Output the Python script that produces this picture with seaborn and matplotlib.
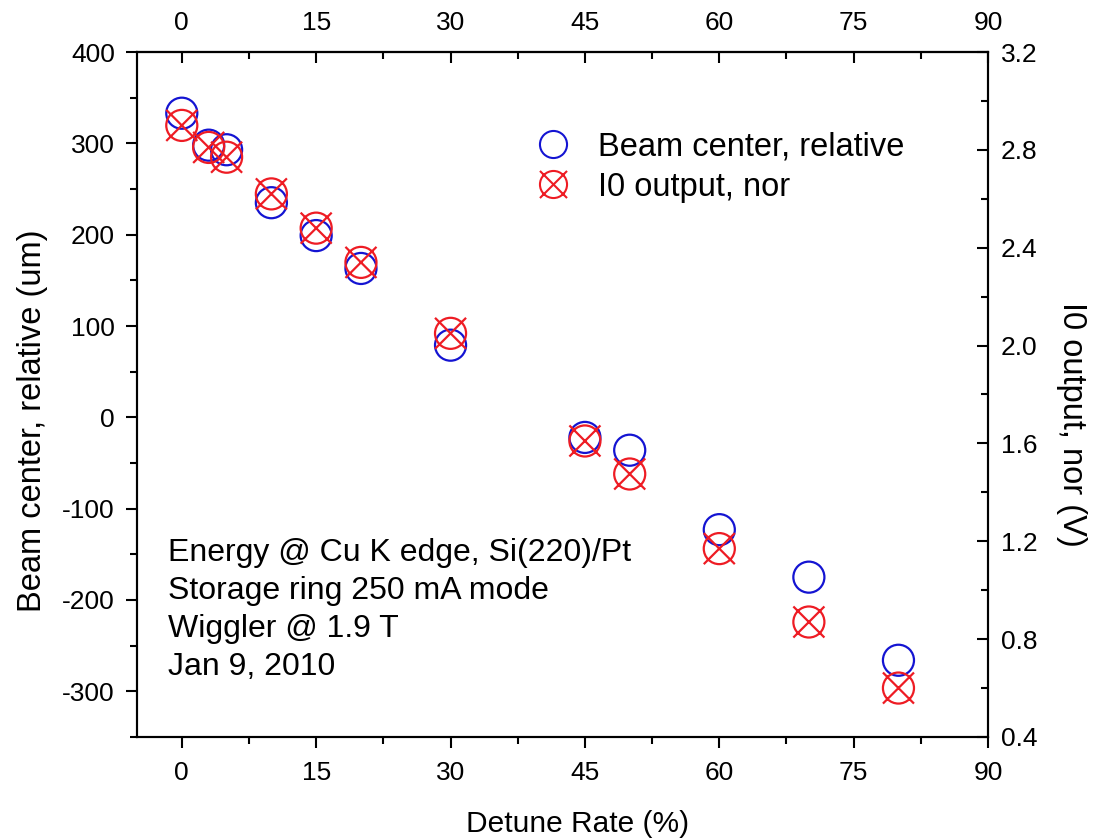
import matplotlib
matplotlib.use("Agg")
import matplotlib.pyplot as plt
from matplotlib.path import Path
from matplotlib.lines import Line2D
from matplotlib.ticker import MultipleLocator, FormatStrFormatter
import numpy as np
import pandas as pd
import seaborn as sns

# data
detune = [0, 3, 5, 10, 15, 20, 30, 45, 50, 60, 70, 80]
beam_center = [333, 298, 293, 235, 199, 163, 79, -22, -36, -123, -175, -266]
i0_output = [2.90, 2.81, 2.77, 2.62, 2.48, 2.34, 2.05, 1.61, 1.475, 1.17, 0.87, 0.60]

annotation = ["Energy @ Cu K edge, Si(220)/Pt",
              "Storage ring 250 mA mode",
              "Wiggler @ 1.9 T",
              "Jan 9, 2010"]

df = pd.DataFrame({"detune": detune, "beam": beam_center, "i0": i0_output})

sns.set_style("ticks")
plt.rcParams["font.family"] = ["Liberation Sans", "DejaVu Sans"]
plt.rcParams["axes.unicode_minus"] = False
for k in ("text.color", "axes.labelcolor", "xtick.color", "ytick.color", "axes.edgecolor"):
    plt.rcParams[k] = "black"

BLUE = "#1414d2"
RED = "#ee1c24"

# circle with an X through it
circ_x = Path.make_compound_path(Path.unit_circle(),
                                 Path([[-1, -1], [1, 1]]),
                                 Path([[-1, 1], [1, -1]]))

fig = plt.figure(figsize=(10.96, 8.39), dpi=100)
ax = fig.add_axes([0.125, 0.1216, 0.7765, 0.8164])
ax2 = ax.twinx()

sns.scatterplot(data=df, x="detune", y="beam", ax=ax, marker="o", s=500,
                color=BLUE, facecolor="none", edgecolor=BLUE, linewidth=1.6,
                legend=False)
sns.scatterplot(data=df, x="detune", y="i0", ax=ax2, marker=circ_x, s=500,
                color=RED, facecolor="none", edgecolor=RED, linewidth=1.6,
                legend=False)

ax.set_xlim(-5, 90)
ax.set_ylim(-350, 400)
ax2.set_ylim(0.4, 3.2)

ax.xaxis.set_major_locator(MultipleLocator(15))
ax.xaxis.set_minor_locator(MultipleLocator(7.5))
ax.yaxis.set_major_locator(MultipleLocator(100))
ax.yaxis.set_minor_locator(MultipleLocator(50))
ax2.yaxis.set_major_locator(MultipleLocator(0.4))
ax2.yaxis.set_minor_locator(MultipleLocator(0.2))
ax2.yaxis.set_major_formatter(FormatStrFormatter("%.1f"))

for a in (ax, ax2):
    for sp in a.spines.values():
        sp.set_linewidth(1.5)
        sp.set_visible(True)

ax.tick_params(axis="x", which="major", direction="out", length=8, width=1.5,
               labelsize=19, pad=9)
ax.tick_params(axis="y", which="major", direction="out", length=8, width=1.5,
               labelsize=19, pad=8)
ax.tick_params(axis="both", which="minor", direction="out", length=5, width=1.5)
ax2.tick_params(axis="y", which="major", direction="in", length=8, width=1.5,
                labelsize=19, pad=9)
ax2.tick_params(axis="y", which="minor", direction="in", length=5, width=1.5)

top = ax.secondary_xaxis("top")
top.xaxis.set_major_locator(MultipleLocator(15))
top.xaxis.set_minor_locator(MultipleLocator(7.5))
top.tick_params(which="major", direction="in", length=8, width=1.5, labelsize=19, pad=12)
top.tick_params(which="minor", direction="in", length=5, width=1.5)
top.spines["top"].set_linewidth(1.5)

ax.set_xlabel("Detune Rate (%)", fontsize=21.5, labelpad=18)
ax.xaxis.label.set_x(0.518)
ax.set_ylabel("Beam center, relative (um)", fontsize=23.5, labelpad=10)
ax.yaxis.label.set_y(0.461)
ax2.set_ylabel("I0 output, nor (V)", fontsize=23.5, rotation=270, labelpad=36)
ax2.yaxis.label.set_y(0.457)

ax.text(0.036, 0.29, "\n".join(annotation), transform=ax.transAxes,
        fontsize=23, va="top", ha="left", linespacing=1.34)

handles = [
    Line2D([], [], ls="none", marker="o", markersize=19.5, mfc="none",
           mec=BLUE, mew=1.5),
    Line2D([], [], ls="none", marker=circ_x, markersize=19.5, mfc="none",
           mec=RED, mew=1.5),
]
ax2.legend(handles, ["Beam center, relative", "I0 output, nor"],
           loc="upper left", bbox_to_anchor=(0.49, 0.843),
           bbox_transform=fig.transFigure, frameon=False, fontsize=23.5,
           handlelength=1.0, handletextpad=0.87, borderpad=0, borderaxespad=0,
           labelspacing=0.28)

fig.savefig("out.png", dpi=100)
